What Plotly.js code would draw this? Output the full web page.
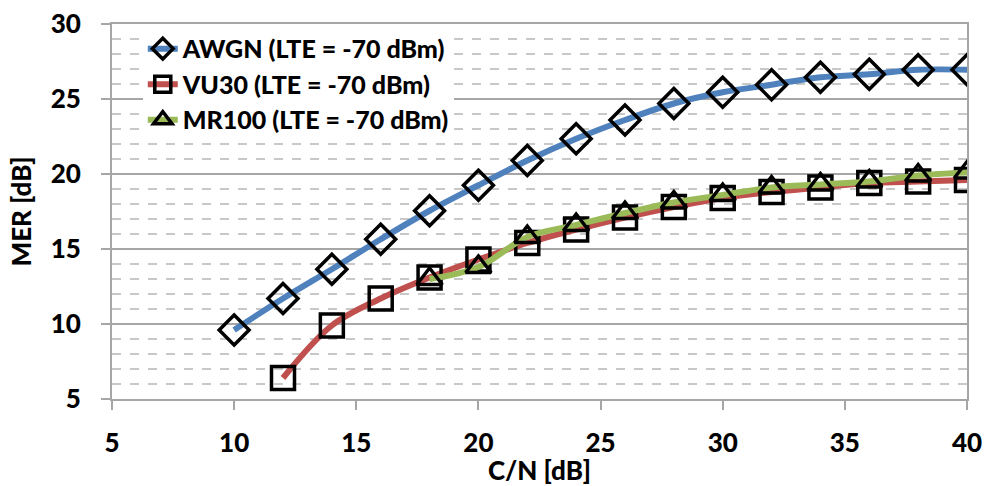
<!DOCTYPE html>
<html>
<head>
<meta charset="utf-8">
<script src="https://cdn.plot.ly/plotly-3.0.1.min.js"></script>
<style>html,body{margin:0;padding:0;background:#fff;}#chart{width:991px;height:486px;}</style>
</head>
<body>
<div id="chart"></div>
<script>
const cnAWGN = [10,12,14,16,18,20,22,24,26,28,30,32,34,36,38,40];
const merAWGN = [9.6,11.7,13.65,15.65,17.55,19.25,20.9,22.35,23.6,24.7,25.45,25.95,26.45,26.65,26.95,26.95];
const cnVU30 = [12,14,16,18,20,22,24,26,28,30,32,34,36,38,40];
const merVU30 = [6.4,9.9,11.7,13.1,14.3,15.4,16.3,17.1,17.8,18.4,18.8,19.1,19.4,19.5,19.6];
const cnMR100 = [18,20,22,24,26,28,30,32,34,36,38,40];
const merMR100 = [13.0,13.8,15.8,16.6,17.4,18.1,18.6,19.1,19.3,19.5,19.9,20.1];
const names = ['AWGN (LTE = -70 dBm)','VU30 (LTE = -70 dBm)','MR100 (LTE = -70 dBm)'];
const xTicks = [5,10,15,20,25,30,35,40];
const yTicks = [5,10,15,20,25,30];

const FONT = 'Lato, "Open Sans", sans-serif';
const W = 900;
function tr(x, y, name, color, symbol, size, group) {
  return {
    x: x, y: y, name: name, type: 'scatter', mode: 'lines+markers',
    legendgroup: group,
    line: {color: color, width: 6, shape: 'spline', smoothing: 1},
    marker: {symbol: symbol, size: size, color: '#000', line: {color: '#000', width: 3.5}}
  };
}
const data = [
  tr(cnAWGN, merAWGN, names[0], '#4F81BD', 'diamond-open', 23, 'a'),
  tr(cnVU30, merVU30, names[1], '#C0504D', 'square-open', 23, 'b'),
  tr(cnMR100, merMR100, names[2], '#9BBB59', 'triangle-up-open', 22, 'c')
];
const layout = {
  width: 991, height: 486,
  margin: {l: 112, r: 24, t: 24, b: 87},
  paper_bgcolor: '#fff', plot_bgcolor: '#fff',
  font: {family: FONT, size: 26, color: '#000', weight: W},
  showlegend: true,
  legend: {
    x: 0.036, y: 0.995, xanchor: 'left', yanchor: 'top',
    bgcolor: '#fff', borderwidth: 0,
    font: {family: FONT, size: 25, color: '#000', weight: W},
    tracegroupgap: 0, itemsizing: 'trace'
  },
  shapes: [
    {type: 'rect', xref: 'paper', yref: 'paper', x0: 0.007, x1: 0.045, y0: 0.70, y1: 0.985,
     fillcolor: '#fff', line: {width: 0}, layer: 'between'}
  ],
  xaxis: {
    range: [5, 40], tickvals: xTicks, ticktext: xTicks.map(String),
    showgrid: false, zeroline: false,
    showline: true, linecolor: '#A6A6A6', linewidth: 2, mirror: true,
    ticks: 'outside', ticklen: 9, tickwidth: 2, tickcolor: '#A6A6A6',
    ticklabelstandoff: 11,
    tickfont: {family: FONT, size: 26, weight: W},
    title: {text: 'C/N [dB]', font: {family: FONT, size: 26, weight: W}, standoff: 0}
  },
  yaxis: {
    range: [5, 30], tickvals: yTicks, ticktext: yTicks.map(String),
    showgrid: true, gridcolor: '#A6A6A6', gridwidth: 2, zeroline: false,
    showline: true, linecolor: '#A6A6A6', linewidth: 2, mirror: true,
    ticks: 'outside', ticklen: 9, tickwidth: 2, tickcolor: '#A6A6A6',
    ticklabelstandoff: 15,
    tickfont: {family: FONT, size: 26, weight: W},
    minor: {dtick: 1, showgrid: true, gridcolor: '#C8C8C8', gridwidth: 1.5, griddash: 'dash', ticks: ''},
    title: {text: 'MER [dB]', font: {family: FONT, size: 26, weight: W}, standoff: 12}
  }
};
Plotly.newPlot('chart', data, layout, {displayModeBar: false, staticPlot: true});
</script>
</body>
</html>
